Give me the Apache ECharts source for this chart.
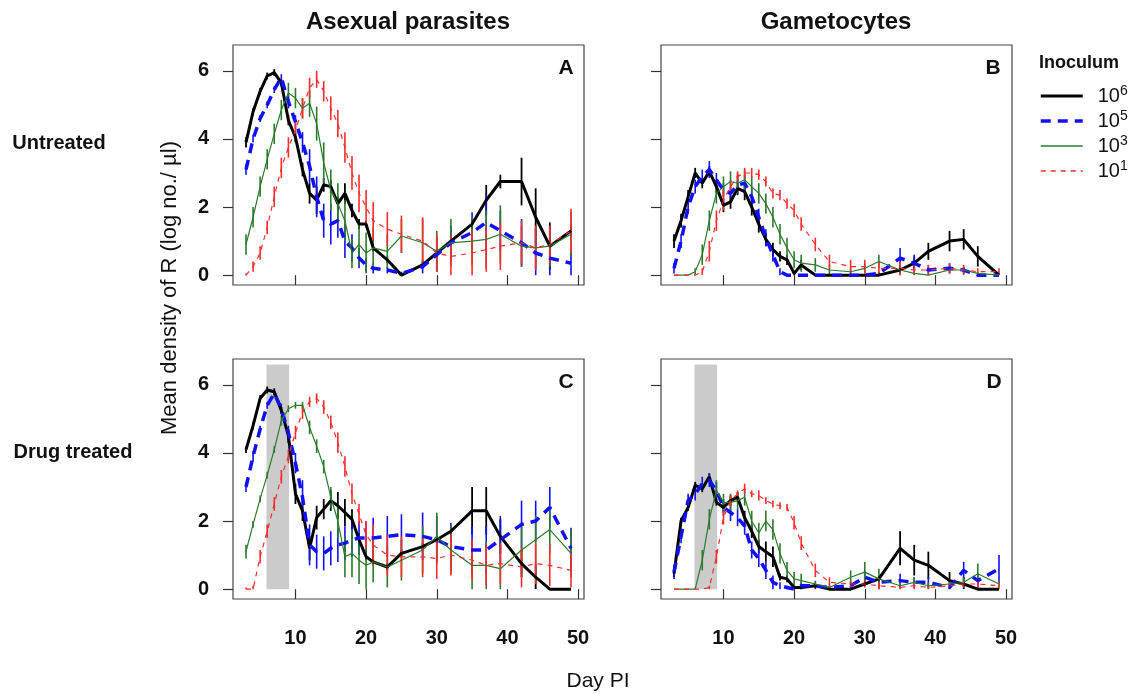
<!DOCTYPE html>
<html>
<head>
<meta charset="utf-8">
<script src="https://cdn.jsdelivr.net/npm/echarts@6/dist/echarts.min.js"></script>
<style>
  html, body { margin: 0; background: #fff; }
  #chart { width: 1135px; height: 694px; }
</style>
</head>
<body>
<div id="chart"></div>
<script>
// sampling days (post inoculation)
const days = [3,4,5,6,7,8,9,10,11,12,13,14,15,16,17,18,19,20,21,23,25,28,30,32,35,37,39,42,44,46,49]
const xTicks = [10, 20, 30, 40, 50]
const yTicks = [0, 2, 4, 6]
const treatDays = [5.9, 9.1]
const treatTop = 6.6

// A: asexual, untreated   (M = mean, E = error half length), suffix = log inoculum
const aM6 = [3.9,4.8,5.4,5.85,5.95,5.65,4.55,4.05,3.1,2.4, 2.2,2.65,2.6,2.1,2.4,1.9,1.5,1.5,0.8,0.45, 0,0.3,0.65,1.0,1.5,2.2,2.75,2.75,1.7,0.85, 1.3]
const aE6 = [0.15,0.1,0.1,0.1,0.1,0.1,0.15,0.15,0.2,0.3, 0.4,0.2,0.2,0.2,0.3,0.2,0.15,0.1,0.1,0.1, 0.05,0.1,0.1,0.1,0.1,0.45,0.2,0.7,0.85,0.7, 0.2]
const aM5 = [3.1,4.0,4.6,5.0,5.45,5.8,5.1,4.5,3.9,3.2, 2.3,1.6,1.5,1.6,1.0,0.8,0.5,0.3,0.2,0.15, 0.05,0.25,0.6,0.95,1.25,1.55,1.3,0.95,0.65,0.5, 0.35]
const aE5 = [0.15,0.1,0.1,0.1,0.1,0.1,0.2,0.2,0.3,0.5, 0.6,0.5,0.6,0.5,0.5,0.4,0.3,0.2,0.15,0.1, 0.05,0.2,0.5,0.5,0.6,0.8,0.6,0.7,0.7,0.6, 0.35]
const aM3 = [0.9,1.7,2.6,3.4,4.15,4.85,5.35,5.2,4.9,5.05, 4.45,3.3,2.5,2.1,1.6,0.65,0.9,0.65,0.8,0.7, 1.15,0.95,0.7,0.95,1.0,1.05,1.2,0.85,0.8,0.85, 1.2]
const aE3 = [0.3,0.3,0.3,0.3,0.3,0.3,0.3,0.3,0.3,0.4, 0.5,0.6,0.6,0.6,0.6,0.45,0.6,0.6,0.6,0.5, 0.5,0.7,0.6,0.7,0.7,0.85,0.85,0.6,0.6,0.6, 0.65]
const aM1 = [0,0.25,0.65,1.4,2.3,3.15,3.75,4.25,4.9,5.5, 5.75,5.4,4.9,4.45,3.75,3.0,2.4,2.0,1.6,1.35, 1.2,1.0,0.65,0.55,0.65,0.75,0.85,0.95,0.8,0.9, 1.3]
const aE1 = [0.05,0.15,0.2,0.2,0.3,0.3,0.3,0.3,0.3,0.3, 0.25,0.3,0.35,0.4,0.45,0.5,0.55,0.5,0.55,0.5, 0.55,0.7,0.55,0.6,0.65,0.65,0.7,0.65,0.65,0.55, 0.65]

// B: gametocytes, untreated
const bM6 = [1.0,1.6,2.3,3.0,2.7,3.05,2.6,2.05,2.15,2.55, 2.45,2.0,1.5,1.05,0.75,0.55,0.45,0.05,0.3,0, 0,0,0,0,0.15,0.35,0.7,1.0,1.05,0.55, 0]
const bE6 = [0.2,0.2,0.2,0.15,0.15,0.15,0.2,0.2,0.2,0.2, 0.25,0.25,0.25,0.2,0.2,0.15,0.15,0.05,0.15,0, 0,0,0,0,0.1,0.2,0.25,0.3,0.3,0.3, 0]
const bM5 = [0.2,1.0,2.0,2.6,2.9,3.1,2.8,2.5,2.4,2.65, 2.7,2.3,1.7,1.1,0.6,0.1,0,0,0,0, 0,0,0,0.05,0.5,0.35,0.15,0.2,0.15,0, 0]
const bE5 = [0.15,0.2,0.2,0.2,0.2,0.25,0.2,0.2,0.2,0.25, 0.25,0.25,0.25,0.25,0.2,0.1,0,0,0,0, 0,0,0,0.05,0.3,0.25,0.15,0.15,0.1,0, 0]
const bM3 = [0,0,0,0.1,0.6,1.6,2.4,2.6,2.75,2.7, 2.8,2.6,2.4,2.1,1.7,1.2,0.8,0.45,0.35,0.3, 0.15,0.1,0.2,0.4,0.15,0.05,0,0.15,0.15,0.05, 0]
const bE3 = [0,0,0,0.1,0.3,0.3,0.3,0.3,0.3,0.3, 0.3,0.3,0.3,0.3,0.3,0.3,0.3,0.25,0.25,0.2, 0.15,0.1,0.15,0.2,0.15,0.05,0,0.1,0.1,0.05, 0]
const bM1 = [0,0,0,0,0.1,0.7,1.6,2.2,2.6,2.9, 3.0,3.0,2.95,2.75,2.4,2.35,2.1,1.9,1.5,0.9, 0.4,0.25,0.25,0.2,0.2,0.15,0.15,0.2,0.15,0.1, 0.1]
const bE1 = [0,0,0,0,0.1,0.3,0.3,0.3,0.2,0.15, 0.15,0.15,0.15,0.15,0.15,0.15,0.15,0.2,0.2,0.2, 0.2,0.2,0.2,0.2,0.2,0.15,0.15,0.15,0.15,0.1, 0.1]

// C: asexual, drug treated
const cM6 = [4.1,4.8,5.6,5.85,5.8,5.25,4.5,2.8,2.3,1.2, 2.1,2.35,2.6,2.45,2.25,2.05,1.45,0.95,0.8,0.65, 1.05,1.25,1.45,1.7,2.3,2.3,1.55,0.75,0.35,0, 0]
const cE6 = [0.1,0.1,0.1,0.1,0.1,0.1,0.2,0.3,0.3,0.35, 0.35,0.3,0.3,0.4,0.4,0.3,0.2,0.1,0.1,0.1, 0.1,0.1,0.1,0.1,0.7,0.7,0.5,0.4,0.4,0, 0]
const cM5 = [3.0,3.9,4.7,5.4,5.75,5.3,4.6,3.7,2.7,1.3, 1.1,1.05,1.2,1.3,1.35,1.45,1.5,1.5,1.5,1.55, 1.6,1.55,1.45,1.25,1.15,1.15,1.45,1.9,2.0,2.4, 1.2]
const cE5 = [0.15,0.15,0.1,0.1,0.1,0.15,0.2,0.3,0.5,0.6, 0.5,0.5,0.5,0.5,0.5,0.5,0.5,0.5,0.6,0.6, 0.6,0.7,0.7,0.7,0.7,0.7,0.7,0.7,0.6,0.6, 0.6]
const cM3 = [1.1,1.9,2.65,3.35,4.1,4.95,5.3,5.4,5.4,4.75, 4.2,3.6,2.7,2.0,0.95,1.05,0.85,0.7,0.8,0.65, 0.85,1.15,1.55,1.15,0.7,0.7,0.6,1.15,1.45,1.75, 1.05]
const cE3 = [0.2,0.1,0.1,0.1,0.1,0.15,0.1,0.1,0.1,0.2, 0.2,0.2,0.3,0.5,0.6,0.7,0.7,0.7,0.6,0.6, 0.6,0.7,0.7,0.7,0.7,0.7,0.7,0.7,0.7,0.7, 0.7]
const cM1 = [0,0,0.95,1.7,2.5,3.3,3.9,4.6,5.2,5.5, 5.6,5.35,4.9,4.3,3.6,2.8,2.2,1.6,1.3,1.0, 0.95,0.95,0.9,1.0,0.85,0.7,0.75,0.65,0.75,0.7, 0.55]
const cE1 = [0.05,0.1,0.2,0.2,0.2,0.2,0.2,0.2,0.2,0.15, 0.15,0.2,0.2,0.3,0.3,0.3,0.3,0.4,0.6,0.6, 0.6,0.6,0.6,0.6,0.6,0.6,0.6,0.6,0.6,0.6, 0.5]

// D: gametocytes, drug treated
const dM6 = [0.45,2.0,2.4,3.05,2.95,3.3,2.55,2.4,2.6,2.7, 2.1,1.7,1.25,1.1,0.95,0.35,0.3,0.05,0.05,0.1, 0,0,0.15,0.3,1.2,0.85,0.7,0.25,0.15,0, 0]
const dE6 = [0.1,0.1,0.1,0.1,0.1,0.1,0.1,0.15,0.15,0.15, 0.2,0.2,0.2,0.3,0.3,0.1,0.1,0.05,0.05,0.05, 0,0,0.05,0.1,0.5,0.45,0.4,0.25,0.2,0, 0]
const dM5 = [0.5,1.55,2.6,2.8,3.1,3.2,2.9,2.4,2.25,2.1, 1.85,1.15,0.9,0.55,0.2,0.1,0.05,0,0.1,0.1, 0.05,0.1,0.35,0.2,0.25,0.2,0.2,0.05,0.55,0.25, 0.6]
const dE5 = [0.2,0.2,0.2,0.2,0.2,0.2,0.25,0.25,0.25,0.25, 0.25,0.25,0.25,0.25,0.2,0.1,0.05,0,0.1,0.1, 0.05,0.1,0.2,0.15,0.2,0.15,0.15,0.05,0.25,0.2, 0.4]
const dM3 = [0,0,0,0,0.85,2.05,2.9,2.55,2.55,2.6, 2.7,2.0,1.65,2.0,1.75,1.05,0.55,0.3,0.25,0.15, 0.05,0.35,0.5,0.3,0.1,0.2,0.1,0.15,0.2,0.45, 0.15]
const dE3 = [0,0,0,0,0.3,0.3,0.3,0.25,0.25,0.25, 0.25,0.3,0.3,0.3,0.3,0.3,0.25,0.2,0.2,0.1, 0.05,0.2,0.3,0.3,0.1,0.15,0.1,0.1,0.15,0.3, 0.1]
const dM1 = [0,0,0,0,0,0.05,0.95,2.1,2.6,2.8, 2.95,2.8,2.75,2.6,2.5,2.45,2.4,1.95,1.35,0.55, 0.2,0.15,0.15,0.1,0.05,0.1,0.05,0.1,0.15,0.15, 0.1]
const dE1 = [0,0,0,0,0,0.05,0.2,0.2,0.15,0.1, 0.15,0.1,0.15,0.1,0.1,0.1,0.1,0.2,0.2,0.2, 0.15,0.1,0.1,0.1,0.05,0.1,0.05,0.1,0.1,0.1, 0.1]

const inocNames = ['1e6', '1e5', '1e3', '1e1']
const inocExp = { '1e6': '6', '1e5': '5', '1e3': '3', '1e1': '1' }

const panels = [
  [[aM6, aE6], [aM5, aE5], [aM3, aE3], [aM1, aE1]],
  [[bM6, bE6], [bM5, bE5], [bM3, bE3], [bM1, bE1]],
  [[cM6, cE6], [cM5, cE5], [cM3, cE3], [cM1, cE1]],
  [[dM6, dE6], [dM5, dE5], [dM3, dE3], [dM1, dE1]]
]

const FONT = '"Liberation Sans", Arial, sans-serif'

// line looks per inoculum
const looks = [
  { color: '#000000', width: 3, type: 'solid', bar: 1.8 },
  { color: '#1010ff', width: 3.5, type: [10, 7], bar: 1.6 },
  { color: '#2c7a2c', width: 1.2, type: 'solid', bar: 1.6 },
  { color: '#ff2b2b', width: 1.2, type: [5, 5], bar: 1.6 }
]

const grids = [
  { left: 233, top: 45, width: 351, height: 240 },
  { left: 661, top: 45, width: 351, height: 240 },
  { left: 233, top: 359, width: 351, height: 240 },
  { left: 661, top: 359, width: 351, height: 240 }
].map(g => ({ ...g, show: true, borderColor: '#444', borderWidth: 1.2 }))

const xAxes = grids.map((g, i) => ({
  type: 'value', gridIndex: i, min: 1.16, max: 50.84,
  splitLine: { show: false },
  axisLine: { show: false },
  axisTick: { show: true, customValues: xTicks, length: 10, lineStyle: { color: '#333', width: 1.2 } },
  axisLabel: {
    show: i >= 2, customValues: xTicks, margin: 29,
    fontSize: 20, fontWeight: 'bold', color: '#111', fontFamily: FONT
  }
}))

const yAxes = grids.map((g, i) => ({
  type: 'value', gridIndex: i, min: -0.29, max: 6.76,
  splitLine: { show: false },
  axisLine: { show: false },
  axisTick: { show: true, customValues: yTicks, length: 10, lineStyle: { color: '#333', width: 1.2 } },
  axisLabel: {
    show: i % 2 === 0, customValues: yTicks, margin: 24,
    fontSize: 20, fontWeight: 'bold', color: '#111', fontFamily: FONT
  }
}))

const series = []

// treatment window shading in drug treated panels
;[2, 3].forEach(i => {
  series.push({
    type: 'custom', xAxisIndex: i, yAxisIndex: i, z: 1, silent: true,
    data: [[treatDays[0], treatDays[1], treatTop]],
    renderItem: (params, api) => {
      const p1 = api.coord([api.value(0), api.value(2)])
      const p2 = api.coord([api.value(1), 0])
      return {
        type: 'rect',
        shape: { x: p1[0], y: p1[1], width: p2[0] - p1[0], height: p2[1] - p1[1] },
        style: { fill: '#cbcbcb' }
      }
    }
  })
})

panels.forEach((panel, i) => {
  panel.forEach(([mean, err], s) => {
    const look = looks[s]
    series.push({
      type: 'custom', name: 'err' + i + s, xAxisIndex: i, yAxisIndex: i, z: 3, silent: true,
      data: days.map((d, k) => [d, Math.max(0, mean[k] - err[k]), mean[k] + err[k]]).filter((r, k) => err[k] > 0),
      encode: { x: 0, y: [1, 2] },
      renderItem: (params, api) => {
        const p1 = api.coord([api.value(0), api.value(1)])
        const p2 = api.coord([api.value(0), api.value(2)])
        return {
          type: 'line',
          shape: { x1: p1[0], y1: p1[1], x2: p2[0], y2: p2[1] },
          style: { stroke: look.color, lineWidth: look.bar }
        }
      }
    })
    series.push({
      type: 'line', name: inocNames[s], xAxisIndex: i, yAxisIndex: i, z: 3,
      data: days.map((d, k) => [d, mean[k]]),
      symbol: 'none', showSymbol: false,
      lineStyle: { color: look.color, width: look.width, type: look.type },
      itemStyle: { color: look.color }
    })
  })
})

const txt = (text, x, y, size, weight, extra) => ({
  type: 'text', x, y, ...(extra || {}),
  style: {
    text, font: weight + ' ' + size + 'px ' + FONT, fill: '#111',
    align: 'center', verticalAlign: 'middle', textAlign: 'center', textVerticalAlign: 'middle'
  }
})

const chart = echarts.init(document.getElementById('chart'), null, { renderer: 'canvas' })
chart.setOption({
  animation: false,
  backgroundColor: '#fff',
  grid: grids,
  xAxis: xAxes,
  yAxis: yAxes,
  legend: {
    data: inocNames.map((n, s) => ({
      name: n,
      lineStyle: { color: looks[s].color, width: Math.max(1.5, looks[s].width), type: looks[s].type }
    })),
    orient: 'vertical', left: 1039, top: 84, padding: 0,
    itemWidth: 42, itemHeight: 14, itemGap: 3, selectedMode: false,
    itemStyle: { opacity: 0 },
    formatter: n => '{b|10}{s|' + inocExp[n] + '}',
    textStyle: {
      rich: {
        b: { fontSize: 20, lineHeight: 24, color: '#111', fontFamily: FONT, padding: [0, 0, 0, 10] },
        s: { fontSize: 14, lineHeight: 14, verticalAlign: 'top', color: '#111', fontFamily: FONT }
      }
    }
  },
  graphic: [
    txt('Asexual parasites', 408, 22, 24, 'bold'),
    txt('Gametocytes', 836, 22, 24, 'bold'),
    txt('Untreated', 59, 143, 20, 'bold'),
    txt('Drug treated', 73, 452, 20, 'bold'),
    txt('Mean density of R (log no./ µl)', 170, 288, 22, 'normal', { rotation: Math.PI / 2 }),
    txt('Day PI', 598, 681, 21, 'normal'),
    txt('A', 566, 68, 21, 'bold'),
    txt('B', 993, 68, 21, 'bold'),
    txt('C', 566, 382, 21, 'bold'),
    txt('D', 994, 382, 21, 'bold'),
    txt('Inoculum', 1079, 63, 18, 'bold')
  ],
  series
})
</script>
</body>
</html>
